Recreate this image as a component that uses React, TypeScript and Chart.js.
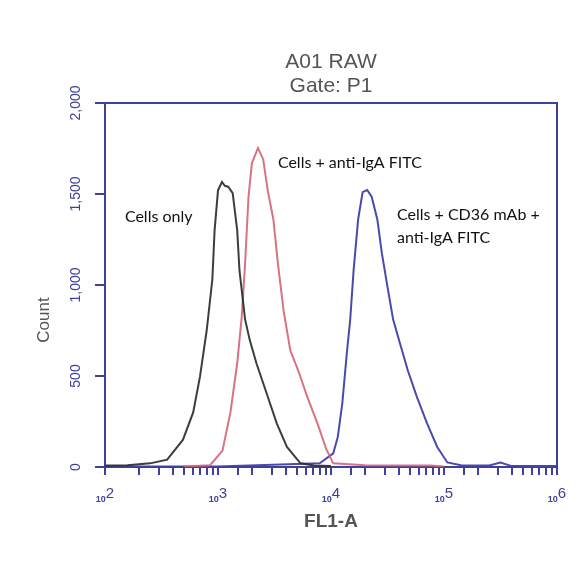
import { useEffect, useRef } from "react";
import { Chart, registerables } from "chart.js";

Chart.register(...registerables);

// ---- Data ----
const TITLE_LINES = ["A01 RAW", "Gate: P1"];
const X_TITLE = "FL1-A";
const Y_TITLE = "Count";
const Y_TICKS = [0, 500, 1000, 1500, 2000];
const X_DECADES = [2, 3, 4, 5, 6];

const CELLS_ONLY_X = [100, 158, 251, 355, 490, 603, 692, 794, 891, 933, 1000, 1084, 1150, 1230, 1349, 1479, 1549, 1738, 1905, 2188, 2692, 3311, 4074, 5370, 7079, 10000];
const CELLS_ONLY_Y = [8, 10, 20, 40, 150, 300, 495, 750, 1030, 1300, 1520, 1566, 1545, 1540, 1505, 1300, 1080, 810, 700, 570, 405, 240, 110, 20, 8, 5];

const ANTI_IGA_X = [501, 851, 1096, 1288, 1479, 1622, 1738, 1862, 1995, 2259, 2512, 2754, 3090, 3388, 3802, 4365, 5129, 6166, 7586, 9120, 10471, 19953, 75858, 100000];
const ANTI_IGA_Y = [3, 10, 90, 300, 570, 825, 1120, 1485, 1670, 1753, 1690, 1520, 1360, 1120, 860, 640, 530, 385, 240, 95, 20, 10, 8, 3];

const CD36_X = [100, 1000, 7943, 10471, 11482, 12589, 13804, 14791, 15849, 17378, 19055, 20893, 22909, 25704, 28184, 31623, 35481, 40738, 47863, 57544, 70795, 87096, 107152, 141254, 251189, 316228, 398107, 1000000];
const CD36_Y = [3, 3, 20, 75, 165, 350, 625, 810, 1080, 1360, 1510, 1522, 1485, 1360, 1175, 990, 810, 680, 530, 385, 240, 110, 25, 10, 8, 25, 5, 5];

const SERIES_NAMES = ["Cells only", "Cells + anti-IgA FITC", "Cells + CD36 mAb + anti-IgA FITC"];

// annotation anchors in data coordinates [FL1-A, Count]
const NOTE_TEXT = ["Cells only", "Cells + anti-IgA FITC", "Cells + CD36 mAb +", "anti-IgA FITC"];
const NOTE_X = [150, 3388, 38370, 38370];
const NOTE_Y = [1374, 1670, 1385, 1258];

const NAVY = "#40409a";
const GRAY = "#555555";

function toPoints(xs: number[], ys: number[]) {
  return xs.map((x, i) => ({ x, y: ys[i] }));
}

const decorations = {
  id: "decorations",
  afterDraw(chart: any) {
    const { ctx, chartArea, scales } = chart;
    const xs = scales.x;
    const ys = scales.y;
    ctx.save();
    // frame top and right
    ctx.strokeStyle = NAVY;
    ctx.lineWidth = 2;
    ctx.beginPath();
    ctx.moveTo(chartArea.left, chartArea.top);
    ctx.lineTo(chartArea.right, chartArea.top);
    ctx.lineTo(chartArea.right, chartArea.bottom);
    ctx.stroke();
    ctx.beginPath();
    ctx.moveTo(chartArea.left - 10, chartArea.top);
    ctx.lineTo(chartArea.left, chartArea.top);
    ctx.stroke();

    // y tick labels rotated
    ctx.fillStyle = NAVY;
    ctx.font = "14px 'Liberation Sans', Arial, sans-serif";
    ctx.textAlign = "center";
    ctx.textBaseline = "middle";
    Y_TICKS.forEach((v) => {
      const py = ys.getPixelForValue(v);
      ctx.save();
      ctx.translate(chartArea.left - 29, py);
      ctx.rotate(-Math.PI / 2);
      ctx.fillText(v.toLocaleString("en-US"), 0, 0);
      ctx.restore();
    });

    // x tick labels 10^n
    X_DECADES.forEach((d) => {
      const px = xs.getPixelForValue(Math.pow(10, d));
      ctx.font = "bold 9px 'Liberation Sans', Arial, sans-serif";
      const w1 = ctx.measureText("10").width;
      ctx.font = "15px 'Liberation Sans', Arial, sans-serif";
      const w2 = ctx.measureText(String(d)).width;
      const start = px - (w1 + w2) / 2;
      ctx.textAlign = "left";
      ctx.textBaseline = "alphabetic";
      ctx.font = "bold 9px 'Liberation Sans', Arial, sans-serif";
      ctx.fillText("10", start, chartArea.bottom + 35);
      ctx.font = "15px 'Liberation Sans', Arial, sans-serif";
      ctx.fillText(String(d), start + w1, chartArea.bottom + 31);
    });

    // titles
    ctx.fillStyle = GRAY;
    ctx.textAlign = "center";
    ctx.textBaseline = "middle";
    ctx.font = "21px 'Liberation Sans', Arial, sans-serif";
    const cx = (chartArea.left + chartArea.right) / 2;
    ctx.fillText(TITLE_LINES[0], cx, chartArea.top - 41);
    ctx.fillText(TITLE_LINES[1], cx, chartArea.top - 17);

    ctx.font = "bold 19px 'Liberation Sans', Arial, sans-serif";
    ctx.fillText(X_TITLE, cx, chartArea.bottom + 55);

    ctx.save();
    ctx.translate(chartArea.left - 61, (chartArea.top + chartArea.bottom) / 2 + 35);
    ctx.rotate(-Math.PI / 2);
    ctx.font = "17px 'Liberation Sans', Arial, sans-serif";
    ctx.fillText(Y_TITLE, 0, 0);
    ctx.restore();

    // annotations
    ctx.fillStyle = "#111111";
    ctx.textAlign = "left";
    ctx.textBaseline = "middle";
    ctx.font = "16px Lato, 'Open Sans', sans-serif";
    NOTE_TEXT.forEach((t, i) => {
      ctx.fillText(t, xs.getPixelForValue(NOTE_X[i]), ys.getPixelForValue(NOTE_Y[i]));
    });
    ctx.restore();
  },
};

export default function App() {
  const ref = useRef<HTMLCanvasElement | null>(null);
  useEffect(() => {
    if (!ref.current) return;
    const chart = new Chart(ref.current, {
      type: "line",
      data: {
        datasets: [
          {
            label: SERIES_NAMES[0],
            data: toPoints(CELLS_ONLY_X, CELLS_ONLY_Y),
            borderColor: "rgba(40,40,40,0.9)",
            borderWidth: 2,
            pointRadius: 0,
            tension: 0,
          },
          {
            label: SERIES_NAMES[1],
            data: toPoints(ANTI_IGA_X, ANTI_IGA_Y),
            borderColor: "rgba(210,100,120,0.9)",
            borderWidth: 2,
            pointRadius: 0,
            tension: 0,
          },
          {
            label: SERIES_NAMES[2],
            data: toPoints(CD36_X, CD36_Y),
            borderColor: "rgba(64,64,165,0.95)",
            borderWidth: 2,
            pointRadius: 0,
            tension: 0,
          },
        ],
      },
      options: {
        responsive: false,
        animation: false,
        devicePixelRatio: 1,
        parsing: false as any,
        layout: { padding: { left: 95, right: 27, top: 103, bottom: 109 } },
        plugins: { legend: { display: false }, title: { display: false }, tooltip: { enabled: false } },
        scales: {
          x: {
            type: "logarithmic",
            min: 100,
            max: 1000000,
            ticks: { display: false },
            grid: { drawOnChartArea: false, drawTicks: true, tickLength: 8, color: NAVY, lineWidth: 2 },
            border: { display: true, color: NAVY, width: 2 },
          },
          y: {
            type: "linear",
            min: 0,
            max: 2000,
            ticks: { display: false, stepSize: 500 },
            grid: { drawOnChartArea: false, drawTicks: true, tickLength: 10, color: NAVY, lineWidth: 2 },
            border: { display: true, color: NAVY, width: 2 },
          },
        },
      },
      plugins: [decorations],
    });
    return () => chart.destroy();
  }, []);
  return (
    <div style={{ position: "absolute", left: 0, top: 0, width: 584, height: 584, background: "#fff" }}>
      <canvas ref={ref} width={584} height={584} />
    </div>
  );
}
